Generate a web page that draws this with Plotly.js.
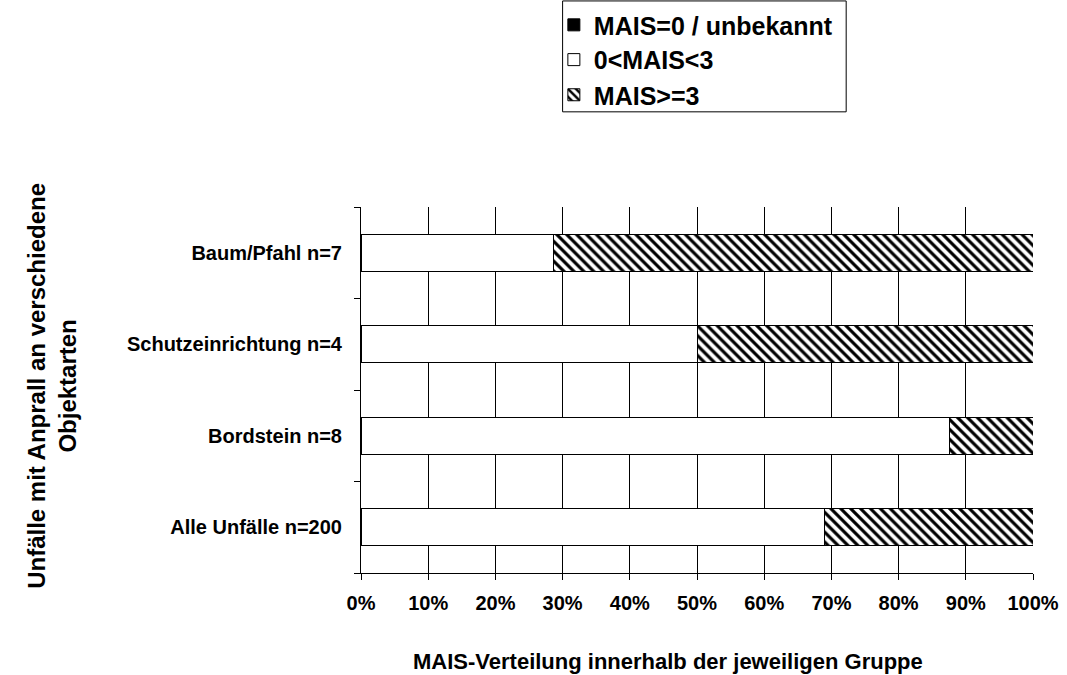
<!DOCTYPE html>
<html>
<head>
<meta charset="utf-8">
<script src="https://cdn.plot.ly/plotly-3.0.1.min.js"></script>
<style>html,body{margin:0;padding:0;background:#fff}#chart{width:1067px;height:675px}</style>
</head>
<body>
<div id="chart"></div>
<script>
// Categories (bottom to top)
const categories = ['Alle Unfälle n=200', 'Bordstein n=8', 'Schutzeinrichtung n=4', 'Baum/Pfahl n=7'];
// Series values (share of group)
const maisUnknown = [0, 0, 0, 0];
const maisLow = [0.69, 0.875, 0.50, 0.286];
const maisHigh = [0.31, 0.125, 0.50, 0.714];
const seriesNames = ['MAIS=0 / unbekannt', '0<MAIS<3', 'MAIS>=3'];
const xTickVals = [0, 0.1, 0.2, 0.3, 0.4, 0.5, 0.6, 0.7, 0.8, 0.9, 1.0];
const xTickText = ['0%', '10%', '20%', '30%', '40%', '50%', '60%', '70%', '80%', '90%', '100%'];

const font = 'Liberation Sans, Arial, sans-serif';
const outline = {color: '#000', width: 1};

const traces = [
  {type: 'bar', orientation: 'h', name: seriesNames[0], y: categories, x: maisUnknown,
   marker: {color: '#000', line: outline}, legend: 'legend'},
  {type: 'bar', orientation: 'h', name: seriesNames[1], y: categories, x: maisLow,
   marker: {color: '#fff', line: outline}, legend: 'legend2'},
  {type: 'bar', orientation: 'h', name: seriesNames[2], y: categories, x: maisHigh,
   marker: {color: '#fff', line: outline,
            pattern: {shape: '\\', fgcolor: '#000', bgcolor: '#fff', size: 7, solidity: 0.45}},
   legend: 'legend3'}
];

const legFont = {family: font, size: 25, color: '#000', weight: 'bold'};
function leg(y) {
  return {x: 0.287, y: y, xanchor: 'left', yanchor: 'middle', font: legFont,
          bgcolor: 'rgba(0,0,0,0)', borderwidth: 0, itemwidth: 30};
}

const layout = {
  width: 1067, height: 675,
  paper_bgcolor: '#fff', plot_bgcolor: '#fff',
  margin: {l: 361, r: 34, t: 207, b: 102, autoexpand: false},
  barmode: 'stack', bargap: 0.6,
  showlegend: true,
  legend: leg(1.497),
  legend2: leg(1.402),
  legend3: leg(1.306),
  xaxis: {
    range: [0, 1], tickmode: 'array', tickvals: xTickVals, ticktext: xTickText,
    showgrid: true, gridcolor: '#000', gridwidth: 1,
    showline: true, linecolor: '#000', linewidth: 1,
    ticks: 'outside', ticklen: 6, tickcolor: '#000',
    ticklabelstandoff: 6,
    tickfont: {family: font, size: 20, color: '#000', weight: 'bold'},
    zeroline: false, fixedrange: true
  },
  yaxis: {
    type: 'category', tickson: 'boundaries',
    showgrid: false, showline: true, linecolor: '#000', linewidth: 1,
    ticks: 'outside', ticklen: 6, tickcolor: '#000',
    ticklabelstandoff: 14,
    tickfont: {family: font, size: 20, color: '#000', weight: 'bold'},
    zeroline: false, fixedrange: true
  },
  shapes: [
    {type: 'rect', xref: 'paper', yref: 'paper', x0: 0.30, x1: 0.722, y0: 1.26, y1: 1.563,
     line: {color: '#000', width: 1}, fillcolor: 'rgba(0,0,0,0)'}
  ],
  annotations: [
    {text: 'Unfälle mit Anprall an verschiedene<br>Objektarten', xref: 'paper', yref: 'paper',
     x: -0.46, y: 0.511, xanchor: 'center', yanchor: 'middle', textangle: -90, showarrow: false,
     font: {family: font, size: 24, color: '#000', weight: 'bold'}},
    {text: 'MAIS-Verteilung innerhalb der jeweiligen Gruppe', xref: 'paper', yref: 'paper',
     x: 0.457, y: -0.243, xanchor: 'center', yanchor: 'middle', showarrow: false,
     font: {family: font, size: 22, color: '#000', weight: 'bold'}}
  ]
};

Plotly.newPlot('chart', traces, layout, {displayModeBar: false, staticPlot: true});
</script>
</body>
</html>
